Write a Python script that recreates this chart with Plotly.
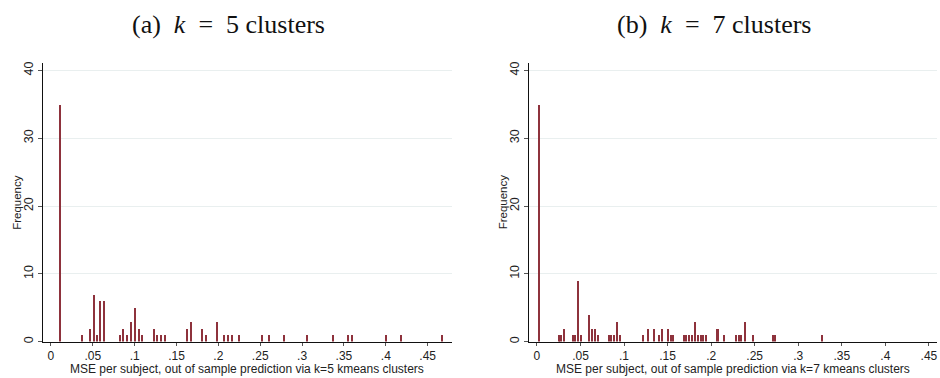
import plotly.graph_objects as go

# ---- Data ----
mse_k5 = [0.0107, 0.0369, 0.0464, 0.0512, 0.0548, 0.0591, 0.0639, 0.0821, 0.0865, 0.0913,
          0.0952, 0.1000, 0.1048, 0.1091, 0.1226, 0.1270, 0.1310, 0.1357, 0.1627, 0.1667,
          0.1806, 0.1853, 0.1988, 0.2067, 0.2115, 0.2163, 0.2250, 0.2520, 0.2607, 0.2786,
          0.3056, 0.3369, 0.3548, 0.3595, 0.3996, 0.4179, 0.4667]
freq_k5 = [35, 1, 2, 7, 1, 6, 6, 1, 2, 1,
           3, 5, 2, 1, 2, 1, 1, 1, 2, 3,
           2, 1, 3, 1, 1, 1, 1, 1, 1, 1,
           1, 1, 1, 1, 1, 1, 1]

mse_k7 = [0.0029, 0.0254, 0.0277, 0.0312, 0.0415, 0.0438, 0.0472, 0.0507, 0.0598, 0.0633,
          0.0667, 0.0702, 0.0828, 0.0858, 0.0893, 0.0919, 0.0954, 0.1218, 0.1275, 0.1344,
          0.1401, 0.1436, 0.1504, 0.1539, 0.1562, 0.1688, 0.1718, 0.1753, 0.1787, 0.1825,
          0.1852, 0.1883, 0.1913, 0.1951, 0.2078, 0.2150, 0.2295, 0.2322, 0.2352, 0.2390,
          0.2482, 0.2710, 0.2741, 0.3281]
freq_k7 = [35, 1, 1, 2, 1, 1, 9, 1, 4, 2,
           2, 1, 1, 1, 1, 3, 1, 1, 2, 2,
           1, 2, 2, 1, 1, 1, 1, 1, 1, 3,
           1, 1, 1, 1, 2, 1, 1, 1, 1, 3,
           1, 1, 1, 1]

x_tickvals = [0, 0.05, 0.1, 0.15, 0.2, 0.25, 0.3, 0.35, 0.4, 0.45]
x_ticktext = ["0", ".05", ".1", ".15", ".2", ".25", ".3", ".35", ".4", ".45"]
y_tickvals = [0, 10, 20, 30, 40]

titles = ["(a)\u2002<i>k</i>\u2002=\u20025 clusters", "(b)\u2002<i>k</i>\u2002=\u20027 clusters"]
x_titles = ["MSE per subject, out of sample prediction via k=5 kmeans clusters",
            "MSE per subject, out of sample prediction via k=7 kmeans clusters"]
y_title = "Frequency"

BAR = "#8e323c"
W, H = 940, 378

fig = go.Figure()
fig.add_trace(go.Bar(x=mse_k5, y=freq_k5, width=0.0024, marker_color=BAR,
                     marker_line_width=0, xaxis="x", yaxis="y", showlegend=False))
fig.add_trace(go.Bar(x=mse_k7, y=freq_k7, width=0.0023, marker_color=BAR,
                     marker_line_width=0, xaxis="x2", yaxis="y2", showlegend=False))

ydom = [(H - 343.3) / H, (H - 62) / H]
xtickfont = dict(family="Liberation Sans, Arial, sans-serif", size=12, color="#222")
ytickfont = dict(family="Liberation Sans, Arial, sans-serif", size=12.5, color="#222")
common_x = dict(tickvals=x_tickvals, ticktext=x_ticktext, showgrid=False, zeroline=False,
                showline=True, linecolor="#111", linewidth=1.2, ticks="outside",
                ticklen=3, tickcolor="#555", tickfont=xtickfont)
common_y = dict(tickvals=y_tickvals, showgrid=True, gridcolor="#e9efef", gridwidth=1,
                zeroline=False, showline=True, linecolor="#111", linewidth=1.2,
                ticks="outside", ticklen=4, tickcolor="#555", tickangle=-90,
                tickfont=ytickfont, domain=ydom, range=[0, 41.17])

fig.update_layout(
    width=W, height=H, margin=dict(l=0, r=0, t=0, b=0),
    paper_bgcolor="white", plot_bgcolor="white", bargap=0,
    xaxis=dict(domain=[43 / W, 452 / W], range=[-0.0095, 0.4785], anchor="y", **common_x),
    yaxis=dict(anchor="x", **common_y),
    xaxis2=dict(domain=[530 / W, 938 / W], range=[-0.0086, 0.4593], anchor="y2", **common_x),
    yaxis2=dict(anchor="x2", **common_y),
)

annos = []
title_x = [229, 715]
ytitle_x = [17, 503]
xtitle_x = [(43 + 452) / 2, (530 + 938) / 2]
for i in range(2):
    annos.append(dict(text=titles[i], x=title_x[i] / W, y=(H - 24) / H, xref="paper", yref="paper",
                      showarrow=False, xanchor="center", yanchor="middle",
                      font=dict(family="Liberation Serif, serif", size=26, color="#111")))
    annos.append(dict(text=x_titles[i], x=xtitle_x[i] / W, y=(H - 370.5) / H, xref="paper", yref="paper",
                      showarrow=False, xanchor="center", yanchor="middle",
                      font=dict(family="Liberation Sans, Arial, sans-serif", size=12, color="#222")))
    annos.append(dict(text=y_title, x=ytitle_x[i] / W, y=(H - 202.5) / H, xref="paper", yref="paper",
                      showarrow=False, xanchor="center", yanchor="middle", textangle=-90,
                      font=dict(family="Liberation Sans, Arial, sans-serif", size=11.5, color="#222")))
fig.update_layout(annotations=annos)

fig.write_html("out.html")
